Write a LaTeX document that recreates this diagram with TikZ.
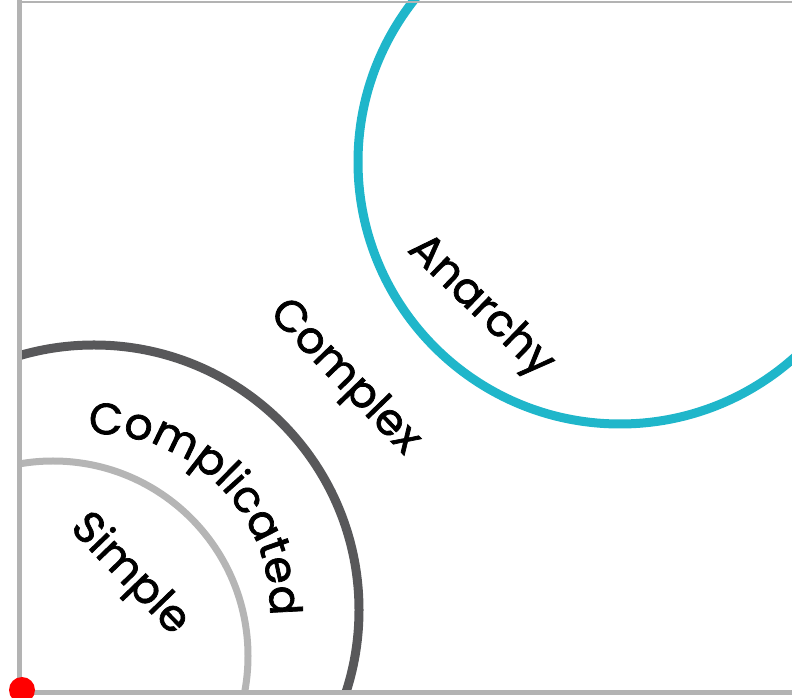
\documentclass[tikz,border=0pt]{standalone}
\usepackage{fontspec}
\setmainfont{Poppins}
\newfontfamily\zonefont{Poppins}[FakeBold=1.6]
\usetikzlibrary{decorations.text}

\definecolor{axisgray}{HTML}{B3B3B3}
\definecolor{simplegray}{HTML}{B5B5B5}
\definecolor{complgray}{HTML}{58585A}
\definecolor{anarchycyan}{HTML}{1FB6CA}

\begin{document}
\begin{tikzpicture}[x=1pt, y=1pt]
	\tikzstyle{axis}=[line width=5pt, draw=axisgray]
	\tikzstyle{zone}=[line width=9pt]
	\tikzstyle{word}=[font=\zonefont\fontsize{44}{48}\selectfont, inner sep=0pt]
	\useasboundingbox (0,0) rectangle (792,698);
	
	% domains
	\begin{scope}
	\clip (17,5) rectangle (792,698);
	\draw[zone, line width=7pt, draw=simplegray] (53,42) circle (195);
	\draw[zone, draw=complgray]                  (94,88) circle (265);
	\draw[zone, draw=anarchycyan]                (620,536) circle (262);
	\end{scope}
	
	% axes
	\coordinate (o)  at (19,5);
	\coordinate (xe) at (792,5);
	\coordinate (ye) at (19,698);
	\coordinate (te) at (792,696);
	\draw[axis] (ye) -- (o) -- (xe);
	\draw[axis, line width=2pt] (19,696) -- (te);
	\node[circle, fill=red, minimum size=26pt, inner sep=0pt] (origin) at (22,8) {};
	
	% labels
	\node[word, rotate=-46] (simple)  at (129,123) {Simple};
	\node[word, rotate=-46] (complex) at (344,320) {Complex};
	\node[word, rotate=-44] (anarchy) at (480,391) {Anarchy};
	\path[decorate, decoration={text along path, text align=center,
		text={|\zonefont\fontsize{44}{48}\selectfont|Complicated}}]
		(94,88) ++(120:176) arc (120:-30:176);
	
\end{tikzpicture}
\end{document}
